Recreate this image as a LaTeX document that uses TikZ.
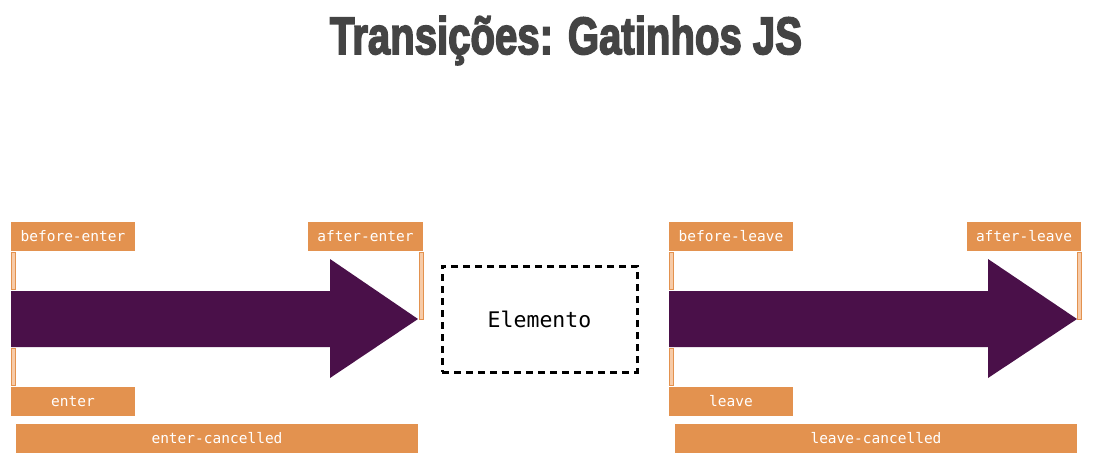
\documentclass[tikz,border=0pt]{standalone}
\usepackage{fontspec}
\setmainfont{Liberation Sans}
\newfontfamily\labelmono{DejaVu Sans Mono}
\newfontfamily\titlefont{Liberation Sans}[BoldFeatures={FakeBold=3.5}]
\definecolor{hookorange}{HTML}{E3924F}
\definecolor{arrowpurple}{HTML}{4A1049}
\definecolor{barpeach}{HTML}{F7CBA8}
\definecolor{titlegray}{HTML}{444444}
\begin{document}
\begin{tikzpicture}[x=1pt,y=-1pt,
  hookbox/.style={fill=hookorange, draw=none, text=white, inner sep=0pt,
    font=\labelmono\fontsize{14.5}{16}\selectfont},
  tickbar/.style={fill=barpeach, draw=hookorange, line width=0.6pt},
  flowarrow/.style={fill=arrowpurple, draw=none},
  elembox/.style={draw=black, line width=3pt, dash pattern=on 7pt off 5pt,
    minimum width=195pt, minimum height=106pt, inner sep=0pt,
    font=\labelmono\fontsize{21.5}{23}\selectfont}
]
\useasboundingbox (0,0) rectangle (1107,474);
\fill[white] (0,0) rectangle (1107,474);

% title
\node[text=titlegray, inner sep=0pt, anchor=base] (title) at (566,54)
  {\resizebox{472pt}{38pt}{\titlefont\bfseries Transições: Gatinhos JS}};

% ---------- enter panel ----------
\fill[flowarrow] (11,291) -- (330,291) -- (330,259) -- (418,319)
  -- (330,378) -- (330,347) -- (11,347) -- cycle;
\draw[tickbar] (11,252) rectangle (15,289);
\draw[tickbar] (11,348) rectangle (15,385);
\draw[tickbar] (419,252) rectangle (423,319);
\node[hookbox, minimum width=124pt, minimum height=29pt] (benter) at (73,236.5) {before-enter};
\node[hookbox, minimum width=115pt, minimum height=29pt] (aenter) at (365.5,236.5) {after-enter};
\node[hookbox, minimum width=124pt, minimum height=29pt] (enter) at (73,401.5) {enter};
\node[hookbox, minimum width=402pt, minimum height=29pt] (ecanc) at (217,438.5) {enter-cancelled};

% ---------- element ----------
\node[elembox] (elem) at (539.5,319) {Elemento};

% ---------- leave panel ----------
\fill[flowarrow] (669,291) -- (988,291) -- (988,259) -- (1077,319)
  -- (988,378) -- (988,347) -- (669,347) -- cycle;
\draw[tickbar] (669,252) rectangle (673,289);
\draw[tickbar] (669,348) rectangle (673,385);
\draw[tickbar] (1077,252) rectangle (1081,319);
\node[hookbox, minimum width=124pt, minimum height=29pt] (bleave) at (731,236.5) {before-leave};
\node[hookbox, minimum width=114pt, minimum height=29pt] (aleave) at (1024,236.5) {after-leave};
\node[hookbox, minimum width=124pt, minimum height=29pt] (leave) at (731,401.5) {leave};
\node[hookbox, minimum width=402pt, minimum height=29pt] (lcanc) at (876,438.5) {leave-cancelled};
\end{tikzpicture}
\end{document}
